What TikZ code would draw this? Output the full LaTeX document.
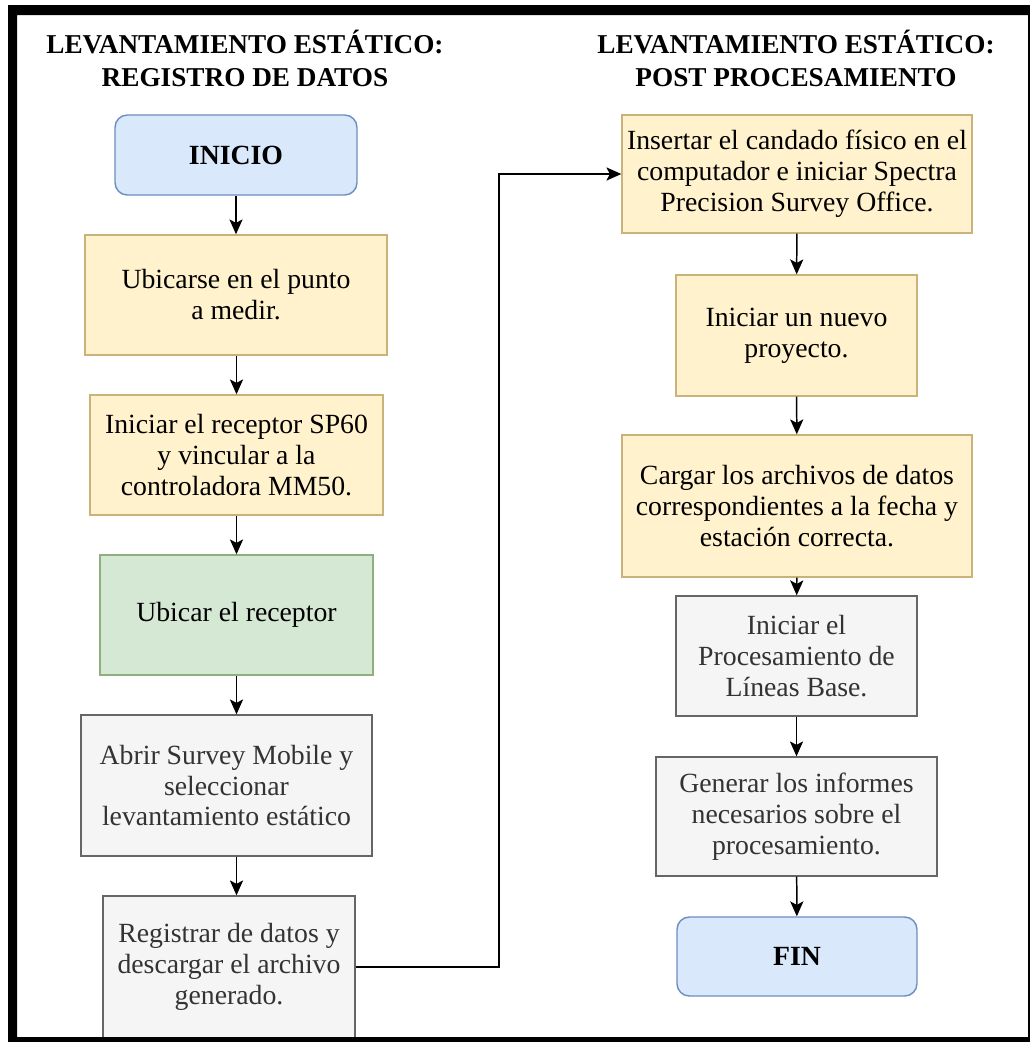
\documentclass[tikz,border=0pt]{standalone}
\usepackage{fontspec}
\setmainfont{Liberation Serif}
\usetikzlibrary{arrows.meta,calc}

\definecolor{azulF}{HTML}{DAE8FC}
\definecolor{azulB}{HTML}{6C8EBF}
\definecolor{amarilloF}{HTML}{FFF2CC}
\definecolor{amarilloB}{HTML}{C9B37A}
\definecolor{verdeF}{HTML}{D5E8D4}
\definecolor{verdeB}{HTML}{8FAF80}
\definecolor{grisF}{HTML}{F5F5F5}
\definecolor{grisB}{HTML}{666666}
\definecolor{grisT}{HTML}{333333}

\begin{document}
\begin{tikzpicture}[x=0.02cm,y=-0.02cm,
    caja/.style={draw, line width=0.8pt, inner sep=0pt, align=center,
      font=\fontsize{15.8}{17.6}\selectfont},
    terminal/.style={caja, fill=azulF, draw=azulB, rounded corners=7pt,
      font=\bfseries\fontsize{15.8}{17.6}\selectfont},
    amarillo/.style={caja, fill=amarilloF, draw=amarilloB},
    verde/.style={caja, fill=verdeF, draw=verdeB},
    gris/.style={caja, fill=grisF, draw=grisB, text=grisT},
    titulo/.style={align=center, font=\bfseries\fontsize{15.5}{18.7}\selectfont},
    flecha/.style={line width=0.85pt, -{Stealth[length=8.5pt,width=7.5pt,inset=2pt]}}]
  \fill[white] (0,0) rectangle (1030,1042);
  \useasboundingbox (0,0) rectangle (1030,1042);

  % titulos
  \node[titulo] (tizq) at (245,58.5) {LEVANTAMIENTO ESTÁTICO:\\REGISTRO DE DATOS};
  \node[titulo] (tder) at (796,58.5) {LEVANTAMIENTO ESTÁTICO:\\POST PROCESAMIENTO};

  % columna izquierda
  \node[terminal, minimum width=4.84cm, minimum height=1.6cm] (inicio) at (236,155) {INICIO};
  \node[amarillo, minimum width=6.04cm, minimum height=2.4cm] (ubicarse) at (236,295)
    {Ubicarse en el punto\\a medir.};
  \node[amarillo, minimum width=5.86cm, minimum height=2.4cm] (receptor) at (236.5,455)
    {Iniciar el receptor SP60\\y vincular a la\\controladora MM50.};
  \node[verde, minimum width=5.46cm, minimum height=2.4cm] (ubicar) at (236.5,615)
    {Ubicar el receptor};
  \node[gris, minimum width=5.82cm, minimum height=2.82cm] (abrir) at (226.5,785.5)
    {Abrir Survey Mobile y\\seleccionar\\levantamiento estático};
  \node[gris, minimum width=5.04cm, minimum height=2.84cm] (registrar) at (229,967)
    {Registrar de datos y\\descargar el archivo\\generado.};

  % columna derecha
  \node[amarillo, minimum width=7cm, minimum height=2.36cm] (insertar) at (797,174)
    {Insertar el candado físico en el\\computador e iniciar Spectra\\Precision Survey Office.};
  \node[amarillo, minimum width=4.82cm, minimum height=2.42cm] (nuevo) at (796.5,335.5)
    {Iniciar un nuevo\\proyecto.};
  \node[amarillo, minimum width=7cm, minimum height=2.84cm] (cargar) at (797,506)
    {Cargar los archivos de datos\\correspondientes a la fecha y\\estación correcta.};
  \node[gris, minimum width=4.82cm, minimum height=2.4cm] (lineas) at (796.5,656)
    {Iniciar el\\Procesamiento de\\Líneas Base.};
  \node[gris, minimum width=5.62cm, minimum height=2.38cm] (generar) at (796.5,816.5)
    {Generar los informes\\necesarios sobre el\\procesamiento.};
  \node[terminal, minimum width=4.8cm, minimum height=1.58cm] (fin) at (797,956.5) {FIN};

  \draw[flecha] (inicio) -- (ubicarse);
  \draw[flecha] (ubicarse.south -| ubicar) -- (receptor.north -| ubicar);
  \draw[flecha] (receptor) -- (ubicar);
  \draw[flecha] (ubicar.south) -- (abrir.north -| ubicar);
  \draw[flecha] (abrir.south -| ubicar) -- (registrar.north -| ubicar);

  \coordinate (codo) at (499,174);
  \draw[flecha] (registrar.east) -| (codo) -- (insertar.west);

  \draw[flecha] (insertar) -- (nuevo);
  \draw[flecha] (nuevo) -- (cargar);
  \draw[flecha] (cargar) -- (lineas);
  \draw[flecha] (lineas) -- (generar);
  \draw[flecha] (generar) -- (fin);

  % marco
  \fill[black, even odd rule] (8,5) rectangle (1030,1042) (17,15) rectangle (1028,1037);
\end{tikzpicture}
\end{document}
